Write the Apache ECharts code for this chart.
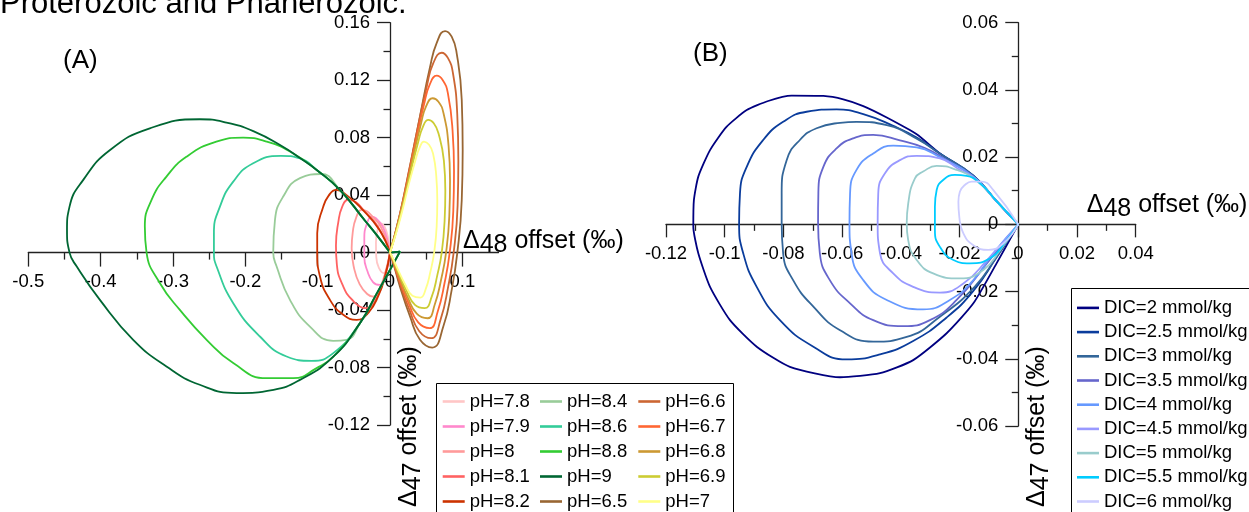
<!DOCTYPE html>
<html>
<head>
<meta charset="utf-8">
<script src="https://cdn.jsdelivr.net/npm/echarts@6/dist/echarts.min.js"></script>
<style>
html,body{margin:0;padding:0;background:#fff;}
#chart{width:1249px;height:512px;}
</style>
</head>
<body>
<div id="chart"></div>
<script>
// ---------- Panel A : tick values ----------
const xTicksA = [-0.5, -0.4, -0.3, -0.2, -0.1, 0, 0.1];
const xMinorA = [-0.45, -0.35, -0.25, -0.15, -0.05, 0.05];
// ---------- Panel A : loops (Δ48, Δ47) ----------
const pH78 = [[0,0],[-0.003,0.011],[-0.0075,0.018],[-0.0125,0.0204],[-0.017,0.016],[-0.0194,0.007],[-0.019,-0.003],[-0.0155,-0.0105],[-0.0085,-0.0143],[-0.003,-0.0095],[0,0]];
const pH79 = [[0,0],[-0.006,0.013],[-0.014,0.021],[-0.0253,0.025],[-0.032,0.02],[-0.0355,0.01],[-0.0355,-0.003],[-0.0315,-0.0125],[-0.0235,-0.0205],[-0.0138,-0.0225],[-0.006,-0.015],[0,0]];
const pH80 = [[0,0],[-0.009,0.014],[-0.022,0.024],[-0.039,0.0297],[-0.047,0.024],[-0.0515,0.014],[-0.053,0.003],[-0.05,-0.01],[-0.042,-0.022],[-0.031,-0.029],[-0.0231,-0.0306],[-0.013,-0.0235],[-0.005,-0.011],[0,0]];
const pH81 = [[0,0],[-0.012,0.014],[-0.03,0.026],[-0.0577,0.0367],[-0.066,0.032],[-0.0715,0.021],[-0.0747,0.005],[-0.0735,-0.008],[-0.066,-0.022],[-0.052,-0.033],[-0.0322,-0.0387],[-0.018,-0.031],[-0.007,-0.016],[0,0]];
const pH82 = [[0,0],[-0.015,0.016],[-0.04,0.031],[-0.06,0.04],[-0.0745,0.0437],[-0.085,0.0395],[-0.0922,0.032],[-0.1006,0.0135],[-0.1006,0],[-0.0968,-0.0167],[-0.083,-0.0329],[-0.0646,-0.0433],[-0.046,-0.0468],[-0.03,-0.042],[-0.016,-0.03],[-0.006,-0.015],[0,0]];
const pH84 = [[0,0],[-0.018,0.012],[-0.035,0.0225],[-0.069,0.0435],[-0.0954,0.0547],[-0.1245,0.0518],[-0.1476,0.039],[-0.159,0.0227],[-0.1614,0],[-0.1567,-0.0097],[-0.1383,-0.0329],[-0.1107,-0.0515],[-0.0784,-0.0614],[-0.0599,-0.0607],[-0.0415,-0.0491],[-0.018,-0.0282],[0,-0.012],[0.0138,0.0007],[0,0]];
const pH86 = [[0,0],[-0.018,0.012],[-0.035,0.0225],[-0.069,0.0435],[-0.1,0.057],[-0.1245,0.0655],[-0.1508,0.0673],[-0.1891,0.0622],[-0.2167,0.0494],[-0.2351,0.032],[-0.2434,0.0135],[-0.2434,0],[-0.2397,-0.0097],[-0.2167,-0.0352],[-0.1798,-0.0584],[-0.1429,-0.0723],[-0.1083,-0.0753],[-0.0784,-0.07],[-0.0415,-0.0491],[-0.018,-0.0282],[0,-0.012],[0.0138,0.0007],[0,0]];
const pH88 = [[0,0],[-0.018,0.012],[-0.035,0.0225],[-0.069,0.0435],[-0.1,0.057],[-0.1383,0.0703],[-0.1706,0.0772],[-0.2029,0.08],[-0.24,0.0772],[-0.281,0.0668],[-0.309,0.0529],[-0.3296,0.0367],[-0.3389,0.0181],[-0.3365,0],[-0.318,-0.0213],[-0.2905,-0.0399],[-0.2535,-0.0607],[-0.2167,-0.0769],[-0.1706,-0.0874],[-0.1337,-0.0874],[-0.1014,-0.0804],[-0.078,-0.0723],[-0.0415,-0.0491],[-0.018,-0.0282],[0,-0.012],[0.0138,0.0007],[0,0]];
const pH90 = [[0,0],[-0.018,0.012],[-0.035,0.0225],[-0.069,0.0435],[-0.1,0.057],[-0.125,0.066],[-0.148,0.0737],[-0.189,0.0845],[-0.226,0.0905],[-0.263,0.0928],[-0.332,0.0865],[-0.387,0.0714],[-0.424,0.0506],[-0.443,0.032],[-0.4465,0.0158],[-0.443,0],[-0.433,-0.0097],[-0.401,-0.0329],[-0.355,-0.0607],[-0.309,-0.0793],[-0.263,-0.092],[-0.212,-0.0978],[-0.161,-0.0955],[-0.1245,-0.0886],[-0.078,-0.0723],[-0.0415,-0.0491],[-0.018,-0.0282],[0,-0.012],[0.0138,0.0007],[0,0]];
const pH65 = [[0,0],[0.0138,0.027],[0.0277,0.06],[0.0415,0.095],[0.0553,0.129],[0.0646,0.146],[0.0761,0.1542],[0.0853,0.1503],[0.0922,0.1387],[0.0992,0.1062],[0.1005,0.0714],[0.0992,0.0367],[0.0931,0],[0.0853,-0.026],[0.0737,-0.0515],[0.0585,-0.0661],[0.0415,-0.0607],[0.0277,-0.0445],[0.0138,-0.0237],[0.0046,-0.0074],[0,0]];
const pH66 = [[0,0],[0.0125,0.024],[0.025,0.054],[0.038,0.086],[0.051,0.116],[0.06,0.132],[0.0715,0.1391],[0.08,0.1355],[0.087,0.125],[0.093,0.096],[0.0945,0.064],[0.0935,0.033],[0.088,0],[0.0805,-0.0235],[0.07,-0.0465],[0.057,-0.0596],[0.0405,-0.0547],[0.027,-0.0401],[0.0135,-0.0214],[0.0045,-0.0067],[0,0]];
const pH67 = [[0,0],[0.0115,0.0215],[0.0235,0.048],[0.035,0.076],[0.047,0.103],[0.055,0.117],[0.0646,0.1231],[0.073,0.12],[0.08,0.111],[0.0865,0.085],[0.0885,0.057],[0.0875,0.029],[0.0825,0],[0.0755,-0.021],[0.066,-0.041],[0.055,-0.0526],[0.039,-0.0486],[0.026,-0.0356],[0.013,-0.019],[0.0043,-0.006],[0,0]];
const pH68 = [[0,0],[0.0105,0.019],[0.0215,0.042],[0.032,0.0665],[0.043,0.09],[0.05,0.102],[0.059,0.1074],[0.067,0.105],[0.074,0.097],[0.081,0.074],[0.083,0.05],[0.082,0.0255],[0.0775,0],[0.071,-0.018],[0.062,-0.036],[0.052,-0.0457],[0.037,-0.0425],[0.0245,-0.0312],[0.0125,-0.0166],[0.0042,-0.0052],[0,0]];
const pH69 = [[0,0],[0.0095,0.016],[0.0195,0.036],[0.029,0.057],[0.039,0.077],[0.0455,0.0875],[0.053,0.0923],[0.0605,0.09],[0.067,0.083],[0.0745,0.064],[0.0765,0.043],[0.0755,0.022],[0.0715,0],[0.0655,-0.0155],[0.0575,-0.031],[0.048,-0.0387],[0.0345,-0.0364],[0.023,-0.0267],[0.0118,-0.0142],[0.004,-0.0045],[0,0]];
const pH70 = [[0,0],[0.0085,0.0135],[0.0175,0.03],[0.026,0.0475],[0.035,0.064],[0.041,0.073],[0.047,0.0772],[0.054,0.075],[0.0595,0.069],[0.064,0.053],[0.0654,0.036],[0.0645,0.018],[0.061,0],[0.056,-0.013],[0.049,-0.026],[0.042,-0.0313],[0.031,-0.03],[0.021,-0.0222],[0.011,-0.0118],[0.0037,-0.0037],[0,0]];

// ---------- Panel B : loops ----------
const dic20 = [[0,0],[-0.0075,0.007],[-0.0153,0.0145],[-0.0267,0.0211],[-0.0346,0.0268],[-0.0448,0.0318],[-0.0528,0.0352],[-0.0596,0.0372],[-0.0664,0.0382],[-0.0772,0.0383],[-0.0852,0.0367],[-0.0925,0.034],[-0.0994,0.029],[-0.105,0.0221],[-0.109,0.0142],[-0.1105,0.0072],[-0.1107,-0.0007],[-0.109,-0.0086],[-0.105,-0.0186],[-0.0982,-0.0285],[-0.0891,-0.0364],[-0.0778,-0.0424],[-0.0607,-0.0455],[-0.0471,-0.0443],[-0.0358,-0.0404],[-0.0244,-0.0324],[-0.0153,-0.0235],[-0.0074,-0.0116],[0,0]];
const dic25 = [[0,0],[-0.0075,0.007],[-0.0153,0.0145],[-0.0267,0.0211],[-0.0346,0.0258],[-0.0426,0.0293],[-0.0528,0.0328],[-0.0619,0.0342],[-0.0721,0.0335],[-0.0801,0.0305],[-0.0869,0.0251],[-0.0925,0.0171],[-0.0948,0.0092],[-0.0951,0.0003],[-0.0937,-0.0086],[-0.0891,-0.0186],[-0.0812,-0.0285],[-0.0698,-0.0364],[-0.0585,-0.0402],[-0.0471,-0.0387],[-0.0358,-0.0347],[-0.0244,-0.0277],[-0.0153,-0.0198],[-0.0074,-0.0098],[0,0]];
const dic30 = [[0,0],[-0.0075,0.007],[-0.0153,0.0145],[-0.0267,0.021],[-0.0346,0.0255],[-0.0448,0.0295],[-0.0551,0.0305],[-0.0607,0.0302],[-0.0687,0.0286],[-0.0744,0.0251],[-0.0789,0.0191],[-0.0806,0.0092],[-0.0806,0.0006],[-0.0801,-0.0086],[-0.0767,-0.0166],[-0.0698,-0.0245],[-0.0607,-0.0315],[-0.0494,-0.0349],[-0.038,-0.0335],[-0.0267,-0.0275],[-0.0148,-0.0185],[-0.0072,-0.0095],[0,0]];
const dic35 = [[0,0],[-0.0075,0.007],[-0.0153,0.0142],[-0.0245,0.0192],[-0.032,0.0228],[-0.0403,0.025],[-0.0494,0.0266],[-0.0562,0.0256],[-0.0619,0.0226],[-0.0664,0.0171],[-0.0681,0.0092],[-0.0682,0.0005],[-0.0676,-0.0086],[-0.0642,-0.0166],[-0.0573,-0.0235],[-0.0494,-0.0285],[-0.0392,-0.0303],[-0.0301,-0.0285],[-0.021,-0.0225],[-0.0107,-0.0116],[0,0]];
const dic40 = [[0,0],[-0.0075,0.007],[-0.0153,0.0142],[-0.0267,0.02],[-0.0346,0.0229],[-0.0426,0.0234],[-0.0494,0.0211],[-0.0551,0.0162],[-0.0573,0.0092],[-0.0575,0.0005],[-0.0568,-0.0086],[-0.0528,-0.0166],[-0.0448,-0.0225],[-0.0324,-0.0253],[-0.0233,-0.0225],[-0.0153,-0.0166],[-0.0085,-0.0086],[0,0]];
const dic45 = [[0,0],[-0.0075,0.007],[-0.0145,0.0135],[-0.0199,0.0162],[-0.0267,0.0196],[-0.0346,0.0204],[-0.0403,0.0191],[-0.0454,0.0152],[-0.0477,0.0092],[-0.0479,0.0005],[-0.0471,-0.0086],[-0.0426,-0.0146],[-0.0358,-0.0186],[-0.0267,-0.0203],[-0.0187,-0.0176],[-0.0107,-0.0107],[0,0]];
const dic50 = [[0,0],[-0.0075,0.007],[-0.0145,0.0132],[-0.021,0.0162],[-0.0278,0.0174],[-0.0324,0.0157],[-0.0352,0.0137],[-0.0375,0.0062],[-0.038,0.0003],[-0.0375,-0.0047],[-0.0346,-0.0106],[-0.029,-0.0146],[-0.0199,-0.0161],[-0.0119,-0.0136],[-0.0062,-0.0077],[0,0]];
const dic55 = [[0,0],[-0.0075,0.007],[-0.013,0.0122],[-0.0176,0.0144],[-0.0216,0.0147],[-0.0256,0.0132],[-0.0278,0.0102],[-0.0284,0.0052],[-0.0284,-0.0017],[-0.0267,-0.0067],[-0.0221,-0.0106],[-0.0165,-0.0116],[-0.0096,-0.0101],[-0.004,-0.0047],[0,0]];
const dic60 = [[0,0],[-0.0085,0.0102],[-0.0125,0.0127],[-0.0159,0.0127],[-0.0182,0.0117],[-0.0199,0.0097],[-0.0204,0.0067],[-0.0201,0.0023],[-0.0187,-0.0027],[-0.0153,-0.0062],[-0.0102,-0.0076],[-0.0051,-0.0057],[0,0]];

const namesA = ['pH=7.8','pH=7.9','pH=8','pH=8.1','pH=8.2','pH=8.4','pH=8.6','pH=8.8','pH=9','pH=6.5','pH=6.6','pH=6.7','pH=6.8','pH=6.9','pH=7'];
const dataA  = [pH78,pH79,pH80,pH81,pH82,pH84,pH86,pH88,pH90,pH65,pH66,pH67,pH68,pH69,pH70];
const colorsA = ['#ffc6c6','#ff88cc','#ff9a9a','#ff6262','#cc3300','#99cc99','#33cc99','#33cc33','#006633','#996633','#cc6633','#ff6633','#cc9933','#cccc33','#ffff88'];
const namesB = ['DIC=2 mmol/kg','DIC=2.5 mmol/kg','DIC=3 mmol/kg','DIC=3.5 mmol/kg','DIC=4 mmol/kg','DIC=4.5 mmol/kg','DIC=5 mmol/kg','DIC=5.5 mmol/kg','DIC=6 mmol/kg'];
const dataB  = [dic20,dic25,dic30,dic35,dic40,dic45,dic50,dic55,dic60];
const colorsB = ['#000080','#0a3c9c','#336699','#6666cc','#6699ff','#9999ff','#99cccc','#00ccff','#ccccff'];

const FONT = 'Liberation Sans, Arial, sans-serif';
const AX = '#222';
const LBL = {color:'#000', fontFamily:FONT, fontSize:18.5, margin:20};

// grid geometry (pixels)
const GA = {left:28.3, top:22.7, width:470.2, height:402.3};
const GB = {left:666, top:22.7, width:469.7, height:403.3};
// offsets moving each axis onto the other axis' zero
const offAx = -(GA.height * (0.12/0.28));
const offAy = -(GA.width * (0.5/0.65));
const offAxTop = -(GA.height * (0.16/0.28));
const offBx = -(GB.height * 0.5);
const offBy = -(GB.width * 0.75);

function axisCommon(extra){
  return Object.assign({
    type:'value',
    splitLine:{show:false},
    axisLine:{show:true, onZero:false, lineStyle:{color:AX, width:1.3}},
    axisTick:{show:true, length:13, lineStyle:{color:AX, width:1.3}},
    minorTick:{show:true, splitNumber:2, length:6.5, lineStyle:{color:AX, width:1.3}},
    axisLabel:LBL
  }, extra);
}

const series = [];
dataA.forEach((d,i)=>series.push({
  name:namesA[i], type:'line', xAxisIndex:0, yAxisIndex:0, data:d,
  symbol:'none', showSymbol:false, smooth:0.5, clip:false,
  lineStyle:{color:colorsA[i], width:1.8}, itemStyle:{color:colorsA[i]}
}));
dataB.forEach((d,i)=>series.push({
  name:namesB[i], type:'line', xAxisIndex:2, yAxisIndex:1, data:d,
  symbol:'none', showSymbol:false, smooth: i===0 ? 0.2 : 0.5, clip:false,
  lineStyle:{color:colorsB[i], width:1.8}, itemStyle:{color:colorsB[i]}
}));

function legendCol(names, left, top, gap){
  return {
    orient:'vertical', left:left, top:top, padding:0, itemGap:gap, height:300,
    itemWidth:22, itemHeight:2.6, icon:'rect', selectedMode:false,
    textStyle:{fontFamily:FONT, fontSize:18.5, color:'#000'},
    data:names
  };
}

function sub(main, subs, rest){
  return '{n|' + main + '}{s|' + subs + '}{n|' + rest + '}';
}
const richName = {
  n:{fontFamily:FONT, fontSize:25, lineHeight:34, verticalAlign:'middle', color:'#000'},
  s:{fontFamily:FONT, fontSize:25, lineHeight:24, verticalAlign:'bottom', color:'#000'}
};

const option = {
  animation:false,
  backgroundColor:'#fff',
  grid:[
    Object.assign({containLabel:false, outerBoundsMode:'none'}, GA),
    Object.assign({containLabel:false, outerBoundsMode:'none'}, GB)
  ],
  xAxis:[
    axisCommon({gridIndex:0, min:-0.5, max:0.15, interval:0.1, position:'bottom', offset:offAx,
      axisTick:{show:true, length:14, customValues:xTicksA, lineStyle:{color:AX, width:1.3}},
      axisLabel:Object.assign({customValues:xTicksA}, LBL),
      minorTick:{show:false}}),
    {type:'value', gridIndex:0, min:-0.5, max:0.15, interval:0.1, position:'top', offset:offAxTop,
      splitLine:{show:false},
      axisLine:{show:false, onZero:false},
      axisLabel:{show:false},
      axisTick:{show:true, inside:true, length:7, customValues:xMinorA, lineStyle:{color:AX, width:1.3}},
      minorTick:{show:false}},
    axisCommon({gridIndex:1, min:-0.12, max:0.04, interval:0.02, position:'bottom', offset:offBx})
  ],
  yAxis:[
    axisCommon({gridIndex:0, min:-0.12, max:0.16, interval:0.04, position:'left', offset:offAy}),
    axisCommon({gridIndex:1, min:-0.06, max:0.06, interval:0.02, position:'left', offset:offBy})
  ],
  legend:[
    legendCol(namesA.slice(0,5), 442.7, 392, 6.0),
    legendCol(namesA.slice(5,10), 540, 392, 6.0),
    legendCol(namesA.slice(10,15), 638.3, 392, 6.0),
    legendCol(namesB, 1077, 298.4, 5.2)
  ],
  graphic:[
    {type:'text', x:0, y:4, style:{text:'Proterozoic and Phanerozoic.', font:'31px Liberation Sans', fill:'#000', align:'left', verticalAlign:'middle'}},
    {type:'text', x:63, y:61, style:{text:'(A)', font:'26px Liberation Sans', fill:'#000', align:'left', verticalAlign:'middle'}},
    {type:'text', x:693, y:53.5, style:{text:'(B)', font:'26px Liberation Sans', fill:'#000', align:'left', verticalAlign:'middle'}},
    {type:'text', x:463, y:240.8, style:{text:sub('Δ','48',' offset (‰)'), rich:richName, align:'left', verticalAlign:'middle'}},
    {type:'text', x:1086.7, y:205, style:{text:sub('Δ','48',' offset (‰)'), rich:richName, align:'left', verticalAlign:'middle'}},
    {type:'text', x:409, y:507, rotation:Math.PI/2, style:{text:sub('Δ','47',' offset (‰)'), rich:richName, align:'left', verticalAlign:'middle'}},
    {type:'text', x:1037, y:507, rotation:Math.PI/2, style:{text:sub('Δ','47',' offset (‰)'), rich:richName, align:'left', verticalAlign:'middle'}},
    {type:'rect', shape:{x:436.5, y:383.5, width:297, height:140}, style:{fill:'none', stroke:'#000', lineWidth:1}, z:-1},
    {type:'rect', shape:{x:1071.5, y:288.5, width:200, height:240}, style:{fill:'none', stroke:'#000', lineWidth:1}, z:-1}
  ],
  series:series
};

const chart = echarts.init(document.getElementById('chart'), null, {renderer:'canvas'});
chart.setOption(option);
</script>
</body>
</html>
